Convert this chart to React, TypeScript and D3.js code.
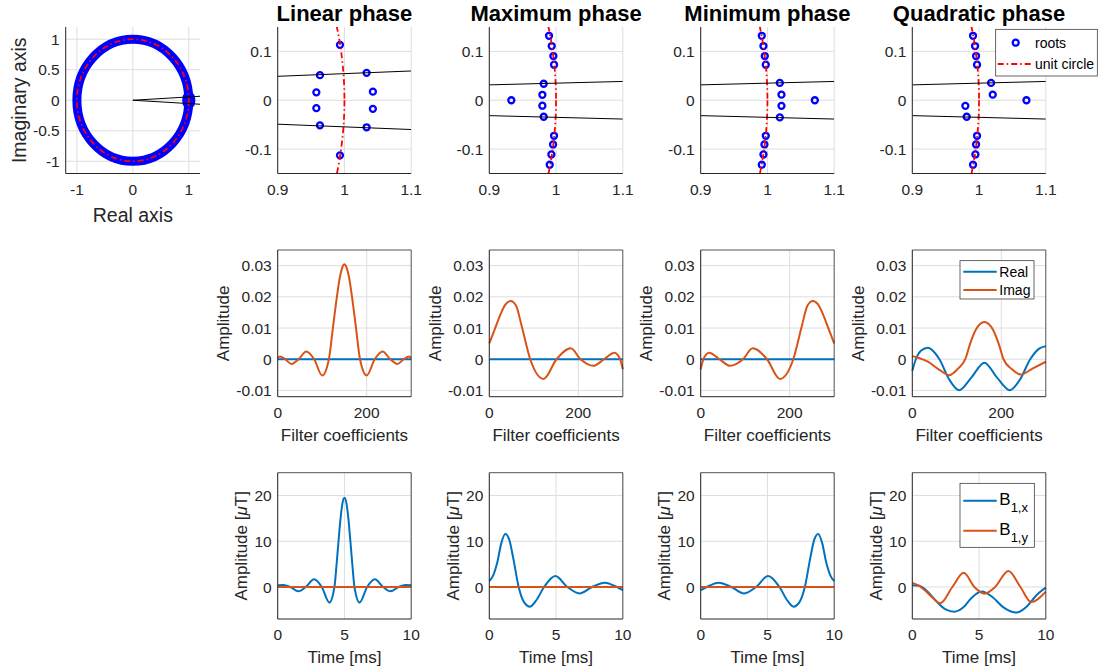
import React from 'react';
import * as d3 from 'd3';

type Pt = [number, number];

const BLUE = '#0072BD';
const ORANGE = '#D95319';
const ROOT_BLUE = '#0000FF';
const GRID = '#dedede';
const AXIS = '#262626';
const FONT = '"Liberation Sans", Arial, Helvetica, sans-serif';

const titles = ['Linear phase', 'Maximum phase', 'Minimum phase', 'Quadratic phase'];

// ---------- Row 1: roots [real, imag] ----------
const rootsLinear: Pt[] = [
  [0.9933, 0.1135], [0.9633, 0.0514], [1.0332, 0.0561], [0.9579, 0.0162], [1.0426, 0.0176],
  [0.9579, -0.0162], [1.0426, -0.0176], [0.9633, -0.0514], [1.0332, -0.0554], [0.9933, -0.1128],
];
const rootsMax: Pt[] = [
  [0.9895, 0.132], [0.9935, 0.111], [0.996, 0.0905], [0.997, 0.0728],
  [0.9815, 0.0338], [0.9795, 0.0112], [0.9795, -0.0112], [0.9815, -0.0338], [0.933, 0.0],
  [0.997, -0.0728], [0.9955, -0.0905], [0.993, -0.111], [0.9905, -0.132],
];
const rootsMin: Pt[] = [
  [0.9915, 0.132], [0.994, 0.111], [0.996, 0.0905], [0.9975, 0.0728],
  [1.0185, 0.0355], [1.021, 0.0115], [1.021, -0.0115], [1.0185, -0.0352], [1.071, 0.0],
  [0.9975, -0.0728], [0.9955, -0.0905], [0.994, -0.111], [0.9915, -0.132],
];
const rootsQuad: Pt[] = [
  [0.991, 0.132], [0.994, 0.111], [0.9955, 0.0905], [0.997, 0.0728],
  [1.018, 0.0355], [1.0205, 0.0115], [1.071, 0.0], [0.9795, -0.0115], [0.9815, -0.0338],
  [0.997, -0.0728], [0.9955, -0.0905], [0.9945, -0.111], [0.991, -0.132],
];
const rootSets = [rootsLinear, rootsMax, rootsMin, rootsQuad];
const bandEdgeSlope = [0.0545, 0.035, 0.035, 0.035];

const overviewTicksX = [-1, 0, 1];
const overviewTicksY = [-1, -0.5, 0, 0.5, 1];
const zoomTicksX = [0.9, 1, 1.1];
const zoomTicksY = [-0.1, 0, 0.1];

// ---------- Row 2: filter coefficients ----------
const coefTicksX = [0, 200];
const coefTicksY = [-0.01, 0, 0.01, 0.02, 0.03];

const coefRealLinear: Pt[] = [[0, 0], [300, 0]];
const coefImagLinear: Pt[] = [
  [0, 0.0004], [5, 0.0009], [17, 0], [31, -0.0015], [47, 0], [64, 0.0025], [82, 0], [100, -0.0052],
  [115, 0], [124, 0.01], [133, 0.02], [140, 0.0265], [145, 0.0293], [150, 0.0304], [155, 0.0293],
  [160, 0.0265], [167, 0.02], [176, 0.01], [185, 0], [200, -0.0052], [218, 0], [236, 0.0025],
  [253, 0], [269, -0.0015], [283, 0], [295, 0.0009], [300, 0.0004],
];
const coefRealMax: Pt[] = [[0, 0], [300, 0]];
const coefImagMax: Pt[] = [
  [0, 0.0051], [12, 0.0095], [24, 0.014], [36, 0.0175], [48, 0.0187], [60, 0.0172], [73, 0.0105],
  [92, 0], [122, -0.0063], [151, 0], [183, 0.0035], [205, 0], [234, -0.0021], [258, 0],
  [281, 0.0021], [294, 0], [300, -0.0032],
];
const coefRealMin: Pt[] = [[0, 0], [300, 0]];
const coefImagMin: Pt[] = [
  [0, -0.0032], [6, 0], [19, 0.0021], [42, 0], [66, -0.0021], [95, 0], [117, 0.0035], [149, 0],
  [178, -0.0063], [208, 0], [227, 0.0105], [240, 0.0172], [252, 0.0187], [264, 0.0175],
  [276, 0.014], [288, 0.0095], [300, 0.0051],
];
const coefRealQuad: Pt[] = [
  [0, -0.0037], [8, 0], [20, 0.0028], [35, 0.0037], [48, 0.0025], [61, 0], [83, -0.0065],
  [105, -0.0099], [133, -0.0058], [162, -0.0011], [190, -0.0058], [219, -0.0099], [242, -0.0065],
  [265, 0], [285, 0.0034], [300, 0.0042],
];
const coefImagQuad: Pt[] = [
  [0, 0.001], [15, 0.0004], [35, -0.0008], [60, -0.0033], [83, -0.0051], [102, -0.0031], [119, 0],
  [130, 0.005], [143, 0.0095], [162, 0.0119], [181, 0.0095], [194, 0.005], [205, 0],
  [224, -0.0032], [244, -0.0049], [270, -0.003], [300, -0.0008],
];
const coefReal = [coefRealLinear, coefRealMax, coefRealMin, coefRealQuad];
const coefImag = [coefImagLinear, coefImagMax, coefImagMin, coefImagQuad];

// ---------- Row 3: RF pulse B1 ----------
const timeTicksX = [0, 5, 10];
const timeTicksY = [0, 10, 20];

const b1xLinear: Pt[] = [
  [0, 0.36], [0.42, 0.45], [0.95, 0], [1.55, -0.95], [2.1, 0], [2.72, 1.67], [3.3, 0], [3.87, -3.4],
  [4.25, 0], [4.4, 4.6], [4.55, 9.8], [4.7, 14.8], [4.85, 18.3], [5, 19.5], [5.15, 18.3],
  [5.3, 14.8], [5.45, 9.8], [5.6, 4.6], [5.75, 0], [6.13, -3.4], [6.7, 0], [7.28, 1.67],
  [7.9, 0], [8.45, -0.95], [9.05, 0], [9.58, 0.45], [10, 0.36],
];
const b1yLinear: Pt[] = [[0, 0], [10, 0]];
const b1xMax: Pt[] = [
  [0, 1.3], [0.3, 2.6], [0.6, 5.4], [0.9, 9.6], [1.2, 11.6], [1.5, 10.3], [1.8, 6.2], [2.2, 0],
  [2.6, -3.3], [3.05, -4.3], [3.5, -3.0], [4.1, 0], [4.95, 2.4], [5.85, 0], [6.75, -1.4],
  [7.7, 0], [8.65, 0.95], [9.55, 0], [10, -0.7],
];
const b1yMax: Pt[] = [[0, 0], [10, 0]];
const b1xMin: Pt[] = [
  [0, -0.7], [0.45, 0], [1.35, 0.95], [2.3, 0], [3.25, -1.4], [4.15, 0], [5.05, 2.4], [5.9, 0],
  [6.5, -3.0], [6.95, -4.3], [7.4, -3.3], [7.8, 0], [8.2, 6.2], [8.5, 10.3], [8.8, 11.6],
  [9.1, 9.6], [9.4, 5.4], [9.7, 2.6], [10, 1.3],
];
const b1yMin: Pt[] = [[0, 0], [10, 0]];
const b1xQuad: Pt[] = [
  [0, 0.36], [0.5, 0.25], [1.0, -0.6], [1.5, -2.1], [2.0, -3.7], [2.5, -4.9], [3.15, -5.4],
  [3.8, -4.5], [4.4, -2.5], [5.2, -1.0], [6.0, -2.2], [6.8, -4.4], [7.8, -5.6], [8.6, -4.2],
  [9.3, -1.8], [10, -0.15],
];
const b1yQuad: Pt[] = [
  [0, 0.9], [0.5, 0.3], [1.0, -0.9], [1.5, -2.3], [2.1, -3.55], [3.0, 0], [3.85, 3.1], [4.65, 0],
  [5.4, -1.45], [6.2, 0], [7.2, 3.5], [8.1, 0], [8.9, -3.3], [10, -1.0],
];
const b1x = [b1xLinear, b1xMax, b1xMin, b1xQuad];
const b1y = [b1yLinear, b1yMax, b1yMin, b1yQuad];

// ---------- layout ----------
const colLeft = [277.7, 489.3, 700.7, 912.3];
const colW = 133.5;
const rowTop = [27, 250, 472.7];
const rowBottom = [173.5, 396.7, 619];
const ovLeft = 65.7;
const ovW = 134.3;

const fmt = (v: number) => String(v);

type Sc = d3.ScaleLinear<number, number>;

function Grid({ x, y, xt, yt }: { x: Sc; y: Sc; xt: number[]; yt: number[] }) {
  const [x0, x1] = x.range();
  const [yb, ytp] = y.range();
  return (
    <g>
      {xt.map((t) => (
        <line key={'gx' + t} x1={x(t)} x2={x(t)} y1={yb} y2={ytp} stroke={GRID} strokeWidth={1} />
      ))}
      {yt.map((t) => (
        <line key={'gy' + t} x1={x0} x2={x1} y1={y(t)} y2={y(t)} stroke={GRID} strokeWidth={1} />
      ))}
    </g>
  );
}

function Axes({ x, y, xt, yt, box }: { x: Sc; y: Sc; xt: number[]; yt: number[]; box: boolean }) {
  const [x0, x1] = x.range();
  const [yb, ytp] = y.range();
  return (
    <g fontFamily={FONT} fontSize={15.5} fill={AXIS}>
      {box && (
        <path d={`M${x0},${ytp}H${x1}V${yb}`} fill="none" stroke={AXIS} strokeWidth={0.8} />
      )}
      <path d={`M${x0},${ytp}V${yb}H${x1}`} fill="none" stroke={AXIS} strokeWidth={1} />
      {xt.map((t) => (
        <text key={'tx' + t} x={x(t)} y={yb + 21} textAnchor="middle">
          {fmt(t)}
        </text>
      ))}
      {yt.map((t) => (
        <text key={'ty' + t} x={x0 - 6} y={y(t)} dy="0.36em" textAnchor="end">
          {fmt(t)}
        </text>
      ))}
    </g>
  );
}

function RootMarker({ cx, cy }: { cx: number; cy: number }) {
  return <circle cx={cx} cy={cy} r={3} fill="none" stroke={ROOT_BLUE} strokeWidth={2.3} />;
}

export default function App() {
  const els: React.ReactNode[] = [];
  const defs: React.ReactNode[] = [];

  // ----- overview panel -----
  {
    const x = d3.scaleLinear().domain([-1.2, 1.2]).range([ovLeft, ovLeft + ovW]);
    const y = d3.scaleLinear().domain([-1.2, 1.2]).range([rowBottom[0], rowTop[0]]);
    const rx = x(1) - x(0);
    const ry = y(0) - y(1);
    const s = bandEdgeSlope[0];
    els.push(
      <g key="ov">
        <Grid x={x} y={y} xt={overviewTicksX} yt={overviewTicksY} />
        <ellipse cx={x(0)} cy={y(0)} rx={rx} ry={ry} fill="none" stroke={ROOT_BLUE} strokeWidth={9} />
        {rootsLinear.map((p, i) => (
          <RootMarker key={i} cx={x(p[0])} cy={y(p[1])} />
        ))}
        <ellipse cx={x(0)} cy={y(0)} rx={rx} ry={ry} fill="none" stroke="#ff0000" strokeWidth={1.8} strokeDasharray="6,3,1.5,3" />
        {[s, -s].map((k, i) => (
          <line key={'bl' + i} x1={x(0)} y1={y(0)} x2={x(1.2)} y2={y(1.2 * k)} stroke="#000" strokeWidth={1} />
        ))}
        <Axes x={x} y={y} xt={overviewTicksX} yt={overviewTicksY} box={false} />
        <text x={(x(-1.2) + x(1.2)) / 2} y={222} textAnchor="middle" fontFamily={FONT} fontSize={19.5} fill={AXIS}>
          Real axis
        </text>
        <text
          transform={`translate(25.7,${(rowTop[0] + rowBottom[0]) / 2}) rotate(-90)`}
          textAnchor="middle"
          fontFamily={FONT}
          fontSize={19.5}
          fill={AXIS}
        >
          Imaginary axis
        </text>
      </g>
    );
  }

  for (let c = 0; c < 4; c++) {
    const L = colLeft[c];
    // ----- row 1: roots zoom -----
    {
      const x = d3.scaleLinear().domain([0.9, 1.1]).range([L, L + colW]);
      const y = d3.scaleLinear().domain([-0.15, 0.15]).range([rowBottom[0], rowTop[0]]);
      const id = 'clipR1' + c;
      defs.push(
        <clipPath id={id} key={id}>
          <rect x={L} y={rowTop[0]} width={colW} height={rowBottom[0] - rowTop[0]} />
        </clipPath>
      );
      const s = bandEdgeSlope[c];
      els.push(
        <g key={'r1' + c}>
          <Grid x={x} y={y} xt={zoomTicksX} yt={zoomTicksY} />
          {rootSets[c].map((p, i) => (
            <RootMarker key={i} cx={x(p[0])} cy={y(p[1])} />
          ))}
          <g clipPath={`url(#${id})`}>
            <ellipse
              cx={x(0)}
              cy={y(0)}
              rx={x(1) - x(0)}
              ry={y(0) - y(1)}
              fill="none"
              stroke="#ff0000"
              strokeWidth={1.8}
              strokeDasharray="6,3,1.5,3"
            />
            {[s, -s].map((k, i) => (
              <line key={i} x1={x(0.9)} y1={y(0.9 * k)} x2={x(1.1)} y2={y(1.1 * k)} stroke="#000" strokeWidth={1} />
            ))}
          </g>
          <Axes x={x} y={y} xt={zoomTicksX} yt={zoomTicksY} box={false} />
          <text x={L + colW / 2} y={21} textAnchor="middle" fontFamily={FONT} fontSize={22} fontWeight="bold" fill="#000">
            {titles[c]}
          </text>
        </g>
      );
    }
    // ----- row 2: filter coefficients -----
    {
      const x = d3.scaleLinear().domain([0, 300]).range([L, L + colW]);
      const y = d3.scaleLinear().domain([-0.012, 0.035]).range([rowBottom[1], rowTop[1]]);
      const line = d3
        .line<Pt>()
        .x((d) => x(d[0]))
        .y((d) => y(d[1]))
        .curve(d3.curveMonotoneX);
      els.push(
        <g key={'r2' + c}>
          <Grid x={x} y={y} xt={coefTicksX} yt={coefTicksY} />
          <path d={line(coefReal[c]) || ''} fill="none" stroke={BLUE} strokeWidth={2} />
          <path d={line(coefImag[c]) || ''} fill="none" stroke={ORANGE} strokeWidth={2} />
          <Axes x={x} y={y} xt={coefTicksX} yt={coefTicksY} box={true} />
          <text x={L + colW / 2} y={rowBottom[1] + 44.5} textAnchor="middle" fontFamily={FONT} fontSize={17} fill={AXIS}>
            Filter coefficients
          </text>
          <text
            transform={`translate(${L - 48.3},${(rowTop[1] + rowBottom[1]) / 2}) rotate(-90)`}
            textAnchor="middle"
            fontFamily={FONT}
            fontSize={17}
            fill={AXIS}
          >
            Amplitude
          </text>
        </g>
      );
    }
    // ----- row 3: B1 -----
    {
      const x = d3.scaleLinear().domain([0, 10]).range([L, L + colW]);
      const y = d3.scaleLinear().domain([-7, 25]).range([rowBottom[2], rowTop[2]]);
      const line = d3
        .line<Pt>()
        .x((d) => x(d[0]))
        .y((d) => y(d[1]))
        .curve(d3.curveMonotoneX);
      els.push(
        <g key={'r3' + c}>
          <Grid x={x} y={y} xt={timeTicksX} yt={timeTicksY} />
          <path d={line(b1x[c]) || ''} fill="none" stroke={BLUE} strokeWidth={2} />
          <path d={line(b1y[c]) || ''} fill="none" stroke={ORANGE} strokeWidth={2} />
          <Axes x={x} y={y} xt={timeTicksX} yt={timeTicksY} box={true} />
          <text x={L + colW / 2} y={rowBottom[2] + 44} textAnchor="middle" fontFamily={FONT} fontSize={17} fill={AXIS}>
            Time [ms]
          </text>
          <text
            transform={`translate(${L - 30.4},${(rowTop[2] + rowBottom[2]) / 2}) rotate(-90)`}
            textAnchor="middle"
            fontFamily={FONT}
            fontSize={17}
            fill={AXIS}
          >
            Amplitude [<tspan fontStyle="italic">μ</tspan>T]
          </text>
        </g>
      );
    }
  }

  // ----- legends -----
  const Lq = colLeft[3];
  const lg1x = Lq + 83.4;
  els.push(
    <g key="leg1" fontFamily={FONT} fontSize={14} fill="#000">
      <rect x={lg1x} y={29.3} width={101.6} height={46.7} fill="#fff" stroke={AXIS} strokeWidth={0.7} />
      <RootMarker cx={lg1x + 20} cy={42.7} />
      <text x={lg1x + 39.3} y={42.7} dy="0.36em">roots</text>
      <line x1={lg1x + 2} x2={lg1x + 37} y1={64} y2={64} stroke="#ff0000" strokeWidth={1.8} strokeDasharray="6,3,1.5,3" />
      <text x={lg1x + 39.3} y={64} dy="0.36em">unit circle</text>
    </g>
  );
  const lg2x = Lq + 47.7;
  els.push(
    <g key="leg2" fontFamily={FONT} fontSize={14} fill="#000">
      <rect x={lg2x} y={260.7} width={74} height={38.3} fill="#fff" stroke={AXIS} strokeWidth={0.7} />
      <line x1={lg2x + 3.3} x2={lg2x + 36.7} y1={271.7} y2={271.7} stroke={BLUE} strokeWidth={2} />
      <text x={lg2x + 39.3} y={271.7} dy="0.36em">Real</text>
      <line x1={lg2x + 3.3} x2={lg2x + 36.7} y1={290} y2={290} stroke={ORANGE} strokeWidth={2} />
      <text x={lg2x + 39.3} y={290} dy="0.36em">Imag</text>
    </g>
  );
  els.push(
    <g key="leg3" fontFamily={FONT} fill="#000">
      <rect x={lg2x} y={483.3} width={74.3} height={64} fill="#fff" stroke={AXIS} strokeWidth={0.7} />
      <line x1={lg2x + 3.3} x2={lg2x + 36.7} y1={500.7} y2={500.7} stroke={BLUE} strokeWidth={2} />
      <text x={lg2x + 39.3} y={505} fontSize={17}>
        B<tspan fontSize={13} dy={7}>1,x</tspan>
      </text>
      <line x1={lg2x + 3.3} x2={lg2x + 36.7} y1={530.7} y2={530.7} stroke={ORANGE} strokeWidth={2} />
      <text x={lg2x + 39.3} y={535} fontSize={17}>
        B<tspan fontSize={13} dy={7}>1,y</tspan>
      </text>
    </g>
  );

  return (
    <svg
      width={1104}
      height={671}
      style={{ position: 'absolute', left: 0, top: 0, background: '#fff', display: 'block' }}
    >
      <defs>{defs}</defs>
      {els}
    </svg>
  );
}
